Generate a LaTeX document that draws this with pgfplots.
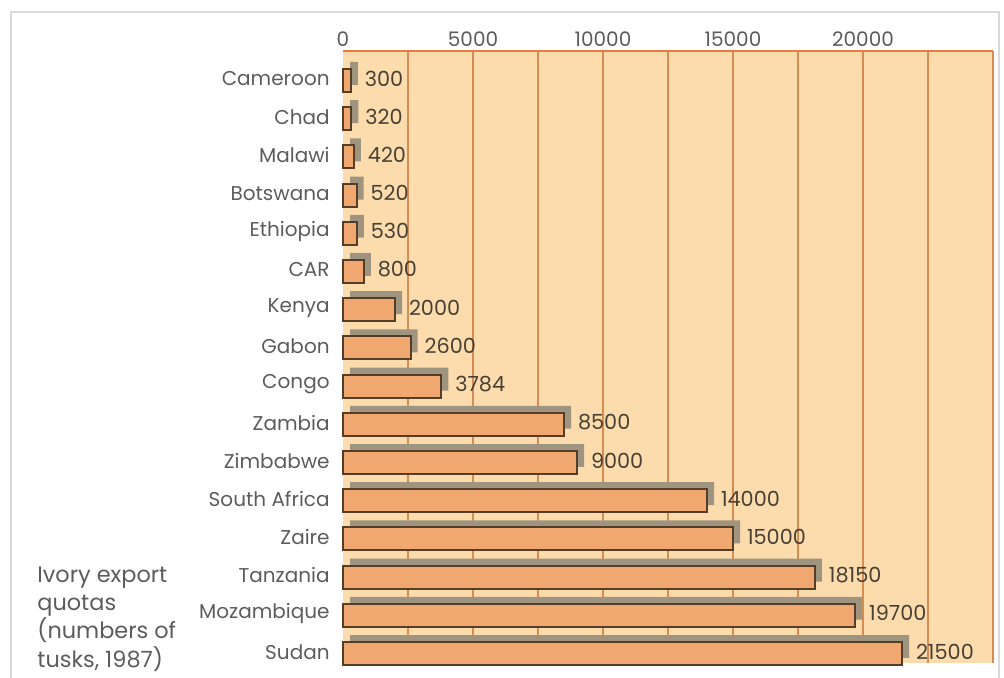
\documentclass[border=0pt]{standalone}
\usepackage{pgfplots}
\usepackage{pgfplotstable}
\pgfplotsset{compat=1.18}
\usepackage{fontspec}
\setmainfont{Poppins}

\definecolor{peach}{RGB}{252,220,172}
\definecolor{barc}{RGB}{241,168,112}
\definecolor{bard}{RGB}{85,62,40}
\definecolor{shadc}{RGB}{158,148,128}
\definecolor{gridc}{RGB}{214,140,82}
\definecolor{topc}{RGB}{234,122,64}
\definecolor{labgray}{RGB}{92,92,92}
\definecolor{valc}{RGB}{72,64,52}
\definecolor{framegray}{RGB}{218,218,218}

% export quotas, listed from top to bottom
\pgfplotstableread{
i v
0 300
1 320
2 420
3 520
4 530
5 800
6 2000
7 2600
8 3784
9 8500
10 9000
11 14000
12 15000
13 18150
14 19700
15 21500
}\quotas

\begin{document}
\begin{tikzpicture}[x=1pt,y=1pt]
\useasboundingbox (0,0) rectangle (502,-338.5);
% thin page frame
\draw[framegray, line width=1pt] (5.5,-360) -- (5.5,-6) -- (499.5,-6) -- (499.5,-360);

\begin{axis}[
  at={(171.5pt,-331.5pt)}, anchor=south west,
  scale only axis, width=325pt, height=306pt,
  xmin=0, xmax=25000, ymin=-0.77, ymax=15.25, y dir=reverse,
  axis background/.style={fill=peach},
  axis line style={draw=none},
  xtick={0,5000,10000,15000,20000},
  extra x ticks={2500,5000,7500,10000,12500,15000,17500,20000,22500,25000},
  extra x tick labels={},
  extra x tick style={grid=major, major grid style={gridc, line width=0.9pt}},
  major tick length=0pt, minor tick length=0pt,
  xticklabel pos=upper,
  scaled x ticks=false,
  /pgf/number format/fixed,
  /pgf/number format/1000 sep={},
  /pgf/number format/assume math mode=true,
  xticklabel style={text=labgray, inner sep=0pt, yshift=2pt},
  ytick={0,...,15},
  yticklabels={Cameroon,Chad,Malawi,Botswana,Ethiopia,CAR,Kenya,Gabon,Congo,Zambia,Zimbabwe,South Africa,Zaire,Tanzania,Mozambique,Sudan},
  yticklabel style={text=labgray, inner sep=0pt, xshift=-6.5pt, yshift=0.8pt},
  ticklabel style={font=\fontsize{10}{12}\selectfont},
  clip=false,
]
% drop shadows behind the bars
\addplot[xbar, bar width=0.6, bar shift=0pt, fill=shadc, draw=none,
  xshift=3.5pt, yshift=3.5pt] table[x=v, y=i] {\quotas};
% the bars with their values
\addplot[xbar, bar width=0.6, bar shift=0pt, fill=barc, draw=bard, line width=1pt,
  point meta=x, nodes near coords,
  nodes near coords style={anchor=west, inner sep=0pt, xshift=6.5pt, yshift=1pt,
    text=valc, font=\fontsize{10.4}{12}\selectfont}] table[x=v, y=i] {\quotas};
% top edge of the panel
\draw[topc, line width=1.1pt] (axis cs:0,-0.77) -- (axis cs:25000,-0.77);
\end{axis}

\begin{scope}[every node/.style={anchor=base west, inner sep=0pt, text=labgray,
    font=\fontsize{11.2}{13}\selectfont}]
\node at (18.5,-291) {Ivory export};
\node at (18.5,-305.15) {quotas};
\node at (18.5,-319.3) {(numbers of};
\node at (18.5,-333.5) {tusks, 1987)};
\end{scope}
\end{tikzpicture}
\end{document}
